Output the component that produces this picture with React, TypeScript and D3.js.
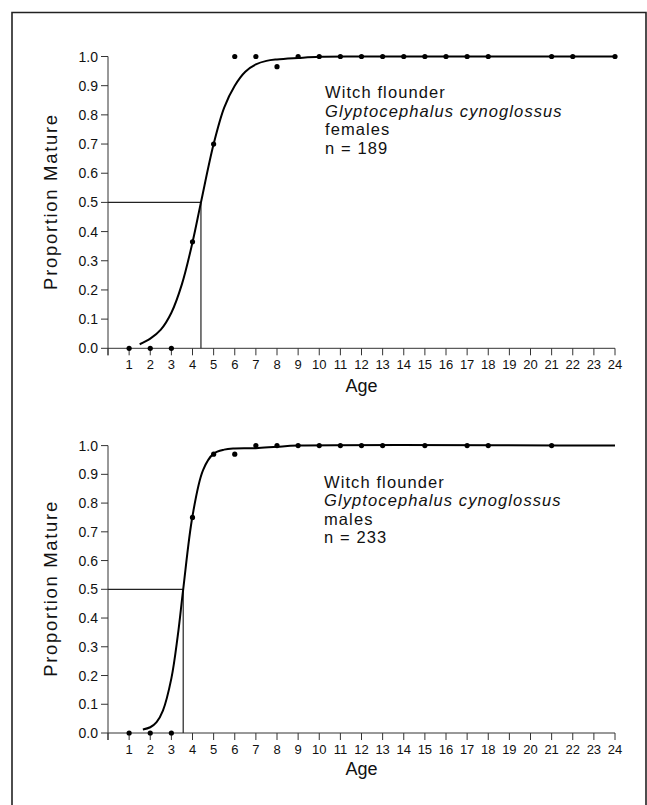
import React from "react";
import * as d3 from "d3";

// ---------- data ----------
const yTickValues = [0, 0.1, 0.2, 0.3, 0.4, 0.5, 0.6, 0.7, 0.8, 0.9, 1.0];
const yTickLabels = ["0.0", "0.1", "0.2", "0.3", "0.4", "0.5", "0.6", "0.7", "0.8", "0.9", "1.0"];
const xTickValues = [0, 1, 2, 3, 4, 5, 6, 7, 8, 9, 10, 11, 12, 13, 14, 15, 16, 17, 18, 19, 20, 21, 22, 23, 24];
const xTickLabels = ["", "1", "2", "3", "4", "5", "6", "7", "8", "9", "10", "11", "12", "13", "14", "15", "16", "17", "18", "19", "20", "21", "22", "23", "24"];

const femaleAges = [1, 2, 3, 4, 5, 6, 7, 8, 9, 10, 11, 12, 13, 14, 15, 16, 17, 18, 21, 22, 24];
const femaleProp = [0, 0, 0, 0.365, 0.70, 1.0, 1.0, 0.965, 1.0, 1.0, 1.0, 1.0, 1.0, 1.0, 1.0, 1.0, 1.0, 1.0, 1.0, 1.0, 1.0];
const femaleCurveAges = [1.5, 2, 2.5, 3, 3.5, 4, 4.4, 5, 5.5, 6, 6.5, 7, 7.5, 8, 9, 10, 12, 24];
const femaleCurveProp = [0.014, 0.033, 0.064, 0.122, 0.22, 0.363, 0.5, 0.70, 0.825, 0.9, 0.948, 0.973, 0.985, 0.99, 0.995, 0.999, 1.0, 1.0];
const femaleA50 = 4.4;

const maleAges = [1, 2, 3, 4, 5, 6, 7, 8, 9, 10, 11, 12, 13, 15, 17, 18, 21];
const maleProp = [0, 0, 0, 0.75, 0.97, 0.97, 1.0, 1.0, 1.0, 1.0, 1.0, 1.0, 1.0, 1.0, 1.0, 1.0, 1.0];
const maleCurveAges = [1.65, 2, 2.3, 2.6, 3, 3.3, 3.56, 4, 4.5, 5, 5.5, 6, 7, 8, 9, 24];
const maleCurveProp = [0.012, 0.02, 0.038, 0.078, 0.19, 0.337, 0.5, 0.755, 0.915, 0.972, 0.986, 0.99, 0.991, 0.996, 1.0, 1.0];
const maleA50 = 3.56;

const femaleLabel = ["Witch flounder", "Glyptocephalus cynoglossus", "females", "n = 189"];
const maleLabel = ["Witch flounder", "Glyptocephalus cynoglossus", "males", "n = 233"];

const FONT = "'Liberation Sans', Arial, Helvetica, sans-serif";

type PanelProps = {
  yRange: [number, number];
  ages: number[];
  props: number[];
  curveAges: number[];
  curveProp: number[];
  a50: number;
  label: string[];
  labelX: number;
  labelY: number[];
  tickBaseOffset: number;
  ageBaseOffset: number;
};

function Panel(p: PanelProps) {
  const x = d3.scaleLinear().domain([0, 24]).range([108, 615]);
  const y = d3.scaleLinear().domain([0, 1]).range(p.yRange);
  const curvePts: [number, number][] = p.curveAges.map((a, i) => [a, p.curveProp[i]]);
  const line = d3
    .line<[number, number]>()
    .x((d) => x(d[0]))
    .y((d) => y(d[1]))
    .curve(d3.curveCatmullRom.alpha(0.5));
  const y0 = y(0);
  const y1 = y(1);
  const axisColor = "#333";
  return (
    <g>
      {/* y axis */}
      <line x1={x(0)} x2={x(0)} y1={y1} y2={y0 + 7} stroke={axisColor} strokeWidth={1} />
      {yTickValues.map((v, i) => (
        <g key={"yt" + i}>
          <line x1={x(0) - 7} x2={x(0)} y1={y(v)} y2={y(v)} stroke={axisColor} strokeWidth={1} />
          <text x={x(0) - 10} y={y(v) + 5} fontSize={14} textAnchor="end" fontFamily={FONT} fill="#111">
            {yTickLabels[i]}
          </text>
        </g>
      ))}
      {/* x axis */}
      <line x1={x(0)} x2={x(24)} y1={y0} y2={y0} stroke={axisColor} strokeWidth={1} />
      {xTickValues.map((v, i) => (
        <g key={"xt" + i}>
          <line x1={x(v)} x2={x(v)} y1={y0} y2={y0 + 7} stroke={axisColor} strokeWidth={1} />
          <text x={x(v)} y={y0 + p.tickBaseOffset} fontSize={13} textAnchor="middle" fontFamily={FONT} fill="#111">
            {xTickLabels[i]}
          </text>
        </g>
      ))}
      <text x={(x(0) + x(24)) / 2} y={y0 + p.ageBaseOffset} fontSize={18} textAnchor="middle" fontFamily={FONT} fill="#111">
        Age
      </text>
      <text
        transform={`translate(57,${(y0 + y1) / 2}) rotate(-90)`}
        fontSize={18.5}
        textAnchor="middle"
        fontFamily={FONT}
        fill="#111"
        textLength={175}
        lengthAdjust="spacing"
      >
        Proportion Mature
      </text>
      {/* 50% reference lines */}
      <line x1={x(0)} x2={x(p.a50)} y1={y(0.5)} y2={y(0.5)} stroke="#222" strokeWidth={1.2} />
      <line x1={x(p.a50)} x2={x(p.a50)} y1={y(0.5)} y2={y0} stroke="#222" strokeWidth={1.2} />
      {/* fitted curve */}
      <path d={line(curvePts) || ""} fill="none" stroke="#000" strokeWidth={2} />
      {/* observed points */}
      {p.ages.map((a, i) => (
        <circle key={"pt" + i} cx={x(a)} cy={y(p.props[i])} r={2.6} fill="#000" />
      ))}
      {/* annotation */}
      {p.label.map((t, i) => (
        <text
          key={"lb" + i}
          x={p.labelX}
          y={p.labelY[i]}
          fontSize={16.5}
          letterSpacing={1.1}
          fontStyle={i === 1 ? "italic" : "normal"}
          fontFamily={FONT}
          fill="#111"
        >
          {t}
        </text>
      ))}
    </g>
  );
}

export default function App() {
  return (
    <svg
      width={647}
      height={805}
      viewBox="0 0 647 805"
      style={{ position: "absolute", left: 0, top: 0, background: "#fff" }}
    >
      <rect x={0} y={0} width={647} height={805} fill="#fff" />
      {/* frame */}
      <path d="M12,810 L12,12.5 L646,12.5 L646,810" fill="none" stroke="#222" strokeWidth={1.6} />
      <Panel
        yRange={[348.3, 56.5]}
        ages={femaleAges}
        props={femaleProp}
        curveAges={femaleCurveAges}
        curveProp={femaleCurveProp}
        a50={femaleA50}
        label={femaleLabel}
        labelX={325}
        labelY={[98, 116.5, 135, 153.5]}
        tickBaseOffset={21}
        ageBaseOffset={43.5}
      />
      <Panel
        yRange={[733, 445.6]}
        ages={maleAges}
        props={maleProp}
        curveAges={maleCurveAges}
        curveProp={maleCurveProp}
        a50={maleA50}
        label={maleLabel}
        labelX={324}
        labelY={[487.5, 506, 524.5, 543]}
        tickBaseOffset={20.5}
        ageBaseOffset={42}
      />
    </svg>
  );
}
